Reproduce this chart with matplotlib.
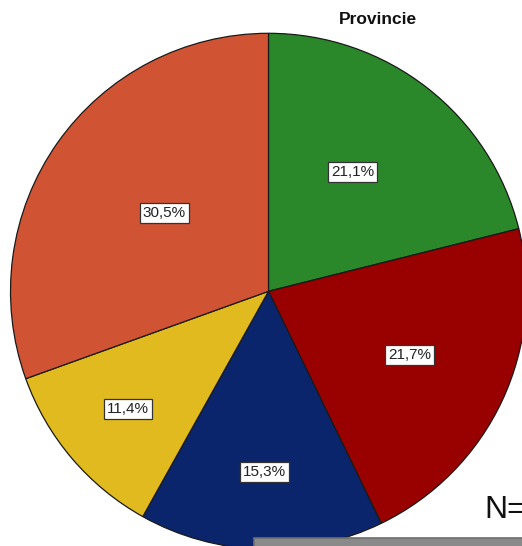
import numpy as np
import matplotlib
matplotlib.use("Agg")
import matplotlib.pyplot as plt
from matplotlib.patches import Rectangle

# ---- data ----
categories = ["Groen", "Rood", "Blauw", "Geel", "Oranje"]
percent = [21.1, 21.7, 15.3, 11.4, 30.5]
pct_labels = ["21,1%", "21,7%", "15,3%", "11,4%", "30,5%"]
title = "Provincie"

# ---- style ----
colors = ["#2a872a", "#990000", "#0a256c", "#e0ba1e", "#d05434"]
label_radius = [0.565, 0.60, 0.70, 0.71, 0.505]
label_dangle = [2.7, 0.8, 0.4, -0.5, -1.8]

W, H = 522, 546
plt.rcParams['font.family'] = ['Liberation Sans', 'DejaVu Sans']
fig = plt.figure(figsize=(W / 100, H / 100), dpi=100)
ax = fig.add_axes([0, 0, 1, 1])

cx, cy, R = 268.5, H - 291.3, 258
wedges, _ = ax.pie(percent, colors=colors, startangle=90, counterclock=False,
                   center=(cx, cy), radius=R,
                   wedgeprops=dict(edgecolor="#1a1a1a", linewidth=0.9))
ax.set_xlim(0, W)
ax.set_ylim(0, H)
ax.set_aspect("equal")
ax.axis("off")

for w, lab, rf, da in zip(wedges, pct_labels, label_radius, label_dangle):
    ang = np.deg2rad((w.theta1 + w.theta2) / 2 + da)
    x = cx + rf * R * np.cos(ang)
    y = cy + rf * R * np.sin(ang)
    ax.text(x, y, lab, ha="center", va="center", fontsize=11, color="#222222",
            bbox=dict(boxstyle="square,pad=0.2", facecolor="white",
                      edgecolor="#333333", linewidth=0.9))

fig.text(377.5 / W, 1 - 19 / H, title, ha="center", va="center",
         fontsize=12.5, fontweight="bold", color="#111111")
fig.text(484 / W, 1 - 510 / H, "N=", ha="left", va="center",
         fontsize=23, color="#111111")

# partially visible legend frame at bottom
ax.add_patch(Rectangle((254, -20), 300, 20 + (H - 538), facecolor="#8a8a8a",
                       edgecolor="#6e6e6e", linewidth=1.2, clip_on=False))

fig.savefig("out.png", dpi=100)
